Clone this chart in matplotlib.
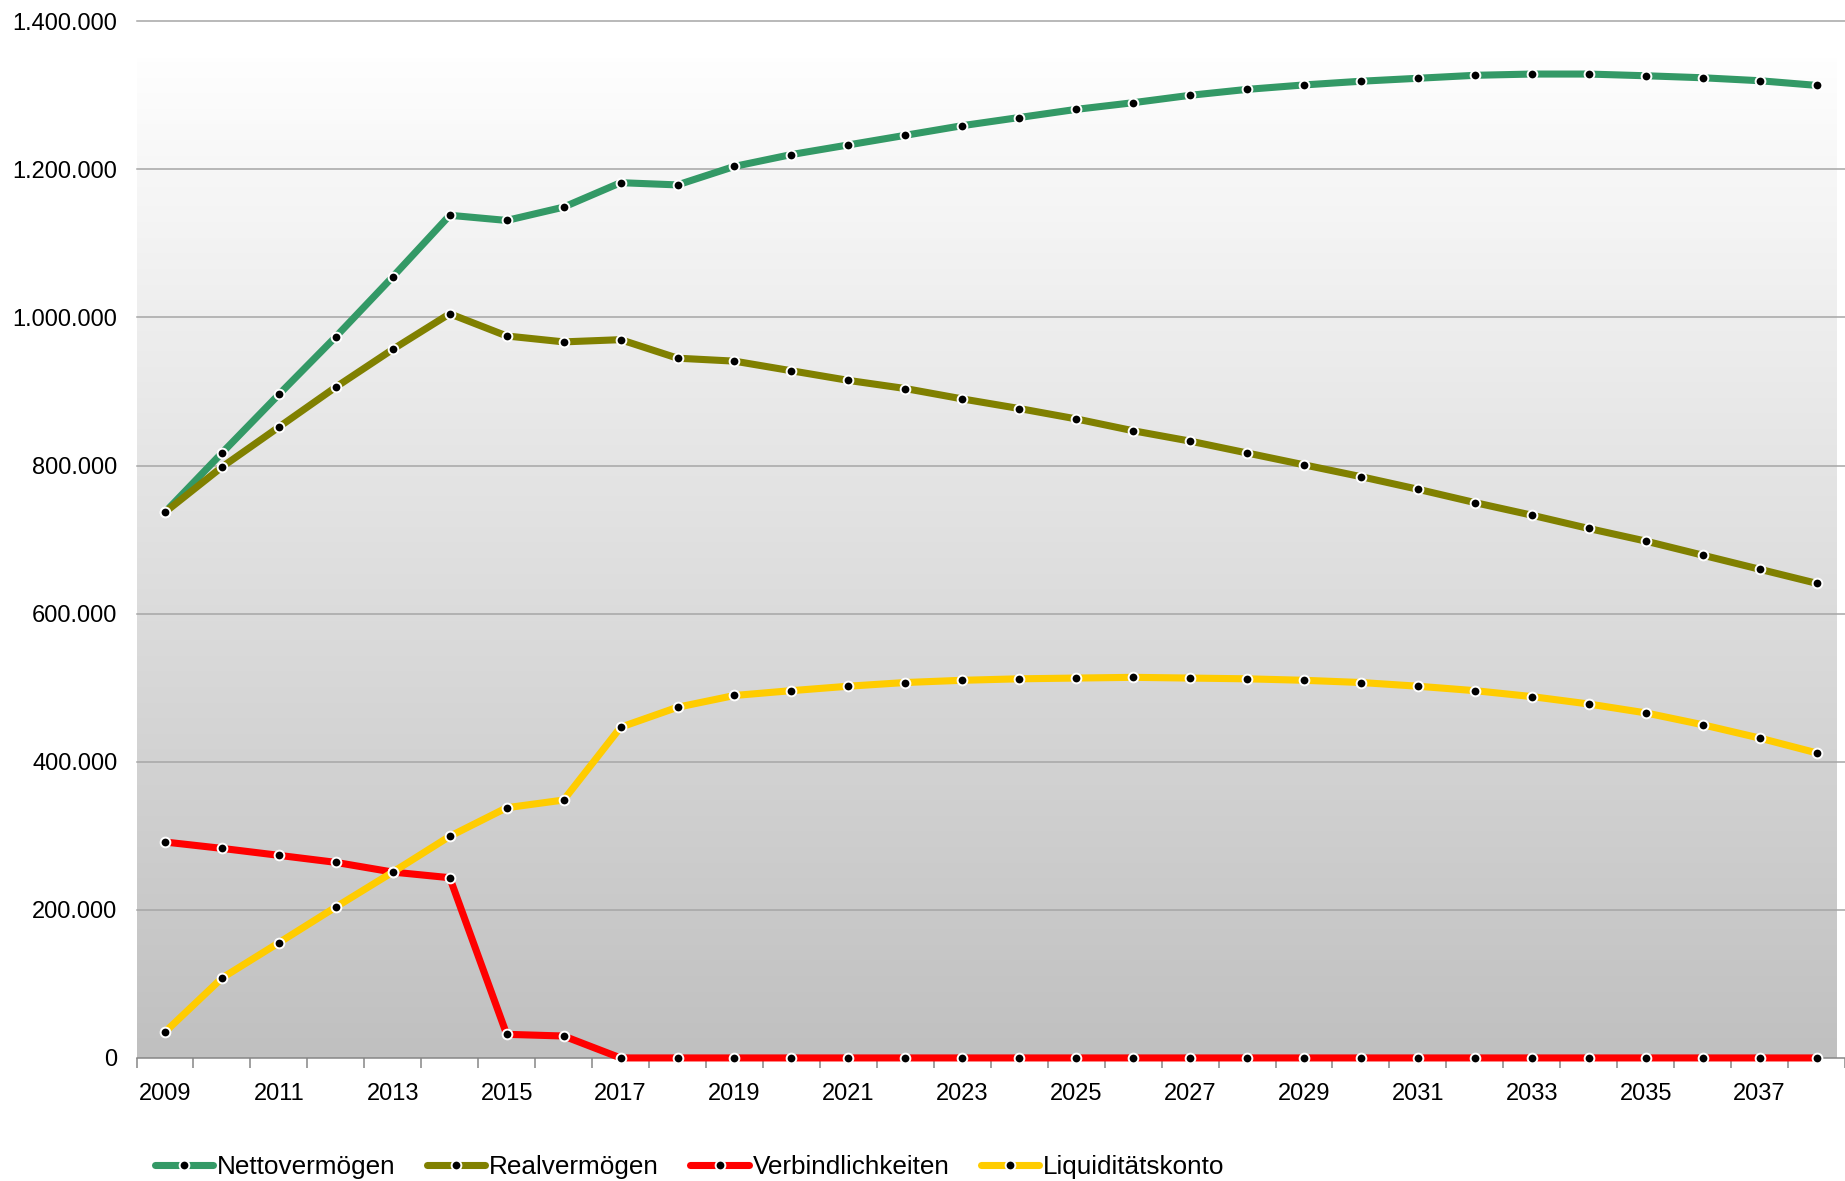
import numpy as np
import matplotlib.pyplot as plt
from matplotlib.colors import LinearSegmentedColormap

plt.rcParams['font.family'] = ['Liberation Sans', 'DejaVu Sans']

years = list(range(2009, 2039))

netto = [737000, 817000, 896000, 974000, 1055000, 1138000, 1131000, 1149000, 1182000, 1179000,
         1204000, 1220000, 1233000, 1246000, 1259000, 1270000, 1281000, 1290000, 1300000, 1308000,
         1314000, 1319000, 1323000, 1327000, 1328700, 1328700, 1326400, 1323700, 1319700, 1313400]
real = [737000, 798000, 852000, 906000, 957000, 1005000, 975000, 967000, 970000, 945000,
        941000, 928000, 915000, 904000, 890000, 877000, 863000, 847000, 833000, 817000,
        801000, 785000, 768000, 750000, 733000, 715000, 698000, 679000, 660000, 641000]
verb = [291600, 283000, 273600, 264100, 251000, 243400, 31900, 29600, 0, 0,
        0, 0, 0, 0, 0, 0, 0, 0, 0, 0,
        0, 0, 0, 0, 0, 0, 0, 0, 0, 0]
liqui = [35000, 107900, 155600, 203800, 251000, 299300, 337900, 348300, 446600, 473600,
         489500, 496000, 502000, 507000, 510000, 512000, 513000, 514000, 513000, 512000,
         510000, 507000, 502000, 496000, 488000, 478000, 466000, 450000, 432000, 412000]

series = [
    ('Nettovermögen', netto, '#339966'),
    ('Realvermögen', real, '#808000'),
    ('Verbindlichkeiten', verb, '#ff0000'),
    ('Liquiditätskonto', liqui, '#ffcc00'),
]

fig = plt.figure(figsize=(18.45, 11.81), dpi=100)
ax = fig.add_axes([0.074, 0.1042, 0.926, 0.8778])

x = np.arange(len(years))
xmax = 29.35

# background gradient (white at top -> grey at bottom)
cmap = LinearSegmentedColormap.from_list('bg', ['#c0c0c0', '#fefefe'])
grad = np.linspace(0, 1, 256).reshape(-1, 1)
ax.imshow(grad, cmap=cmap, origin='lower', aspect='auto',
          extent=[-0.5, xmax, 0, 1.35e6], zorder=0)

for yv in range(200000, 1400001, 200000):
    ax.axhline(yv, color='#a6a6a6', lw=1.1, zorder=1, clip_on=False)

for name, vals, col in series:
    ax.plot(x, vals, color=col, lw=5.1, marker='o', markersize=7,
            markerfacecolor='black', markeredgecolor='white', markeredgewidth=1.4,
            solid_capstyle='round', label=name, zorder=3, clip_on=False)

ax.set_xlim(-0.5, xmax)
ax.set_ylim(0, 1.4e6)

for s in ['top', 'right', 'left']:
    ax.spines[s].set_visible(False)
ax.spines['bottom'].set_color('#868686')
ax.spines['bottom'].set_linewidth(1.1)

ax.set_xticks(np.arange(-0.5, 29.6, 1))
ax.set_xticklabels([])
ax.tick_params(axis='x', which='major', length=7, width=1.1, color='#868686')
ax.set_xticks(x[::2], minor=True)
ax.set_xticklabels([str(y) for y in years[::2]], minor=True)
ax.tick_params(axis='x', which='minor', length=0, pad=18, labelsize=17)

yt = np.arange(0, 1400001, 200000)
ax.set_yticks(yt)
ax.set_yticklabels([f'{v:,.0f}'.replace(',', '.') for v in yt])
ax.tick_params(axis='y', length=0, pad=13.8, labelsize=17)

fig.legend(loc='center left', bbox_to_anchor=(0.084, 0.0115), ncol=4, frameon=False,
           fontsize=18.8, handlelength=2.23, handletextpad=0.15, columnspacing=1.2,
           borderaxespad=0, borderpad=0)

fig.savefig('out.png', dpi=100)
